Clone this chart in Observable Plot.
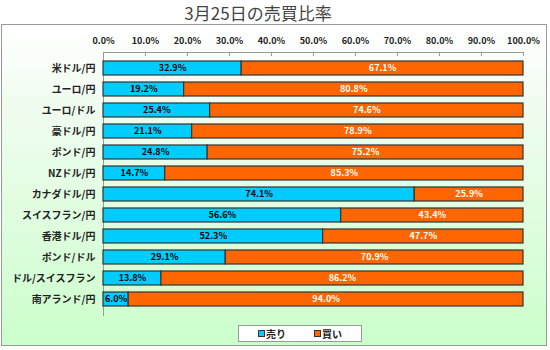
<!DOCTYPE html>
<html>
<head>
<meta charset="utf-8">
<script src="https://cdn.jsdelivr.net/npm/d3@7"></script>
<script src="https://cdn.jsdelivr.net/npm/@observablehq/plot@0.6"></script>
<style>
  html, body { margin: 0; padding: 0; background: #fff; }
  #wrap { position: relative; width: 550px; height: 350px; font-family: "Noto Sans CJK JP", "Noto Sans", sans-serif; overflow: hidden; }
  #title { position: absolute; top: 2px; left: 0; width: 516px; text-align: center; font-size: 17px; color: #444; line-height: 22px; }
  #frame { position: absolute; left: 1px; top: 24px; width: 544px; height: 320px; border: 1px solid #999; background: linear-gradient(#ffffff 0%, #f0fcf0 25%, #ccffcc 100%); }
  #chart { position: absolute; left: 0; top: 0; }
  #legend { position: absolute; left: 238px; top: 325px; width: 122px; height: 15px; border: 1px solid #999; background: #fff; font-size: 10px; font-weight: bold; color: #222; display: flex; align-items: center; justify-content: center; gap: 28px; line-height: 15px; }
  #legend span.sw { display: inline-block; width: 5px; height: 5px; border: 1px solid #333; margin-right: 1px; vertical-align: 1px; }
</style>
</head>
<body>
<div id="wrap">
  <div id="frame"></div>
  <div id="title">3月25日の売買比率</div>
  <div id="chart"></div>
  <div id="legend"></div>
</div>
<script>
const categories = ["米ドル/円","ユーロ/円","ユーロ/ドル","豪ドル/円","ポンド/円","NZドル/円","カナダドル/円","スイスフラン/円","香港ドル/円","ポンド/ドル","ドル/スイスフラン","南アランド/円"];
const sellValues = [32.9,19.2,25.4,21.1,24.8,14.7,74.1,56.6,52.3,29.1,13.8,6.0];
const buyValues  = [67.1,80.8,74.6,78.9,75.2,85.3,25.9,43.4,47.7,70.9,86.2,94.0];
const seriesNames = ["売り","買い"];
const seriesColors = ["#00CCFF","#FF6600"];
const xTicks = [0,10,20,30,40,50,60,70,80,90,100];

const rows = [];
categories.forEach((c, i) => {
  rows.push({cat: c, series: seriesNames[0], value: sellValues[i], start: 0});
  rows.push({cat: c, series: seriesNames[1], value: buyValues[i], start: sellValues[i]});
});
const fmt = d => d.toFixed(1) + "%";
const mid = d => d.start + d.value / 2;

const chart = Plot.plot({
  width: 550,
  height: 350,
  marginLeft: 103,
  marginRight: 27,
  marginTop: 52,
  marginBottom: 35,
  style: {background: "transparent", fontFamily: "'Noto Sans CJK JP', 'Noto Sans', sans-serif", color: "#222"},
  x: {domain: [0, 100]},
  y: {domain: categories, paddingInner: 0.345, paddingOuter: 0.1725},
  color: {domain: seriesNames, range: seriesColors},
  marks: [
    Plot.frame({anchor: "top", stroke: "#999"}),
    Plot.frame({anchor: "left", stroke: "#999"}),
    Plot.barX(rows, Plot.stackX({x: "value", y: "cat", fill: "series", stroke: "#333", strokeWidth: 1.2})),
    Plot.textX(rows.filter(d => d.series === seriesNames[0]), {x: mid, y: "cat", text: d => fmt(d.value), fill: "#000", fontWeight: "bold", fontSize: 9}),
    Plot.textX(rows.filter(d => d.series === seriesNames[1]), {x: mid, y: "cat", text: d => fmt(d.value), fill: "#fff", fontWeight: "bold", fontSize: 9}),
    Plot.axisX({anchor: "top", ticks: xTicks, tickFormat: fmt, tickSize: 0, tickPadding: 9, fontWeight: "bold", fontSize: 9, label: null, fill: "#222"}),
    Plot.axisX({anchor: "top", ticks: xTicks, tickFormat: () => "", tickSize: 3, dy: 3, stroke: "#999", label: null}),
    Plot.axisY({tickSize: 0, tickPadding: 8, fontWeight: "bold", fontSize: 10, label: null, fill: "#222"})
  ]
});
document.getElementById("chart").appendChild(chart);

const legend = document.getElementById("legend");
seriesNames.forEach((s, i) => {
  const item = document.createElement("div");
  item.innerHTML = `<span class="sw" style="background:${seriesColors[i]}"></span>${s}`;
  legend.appendChild(item);
});
</script>
</body>
</html>
